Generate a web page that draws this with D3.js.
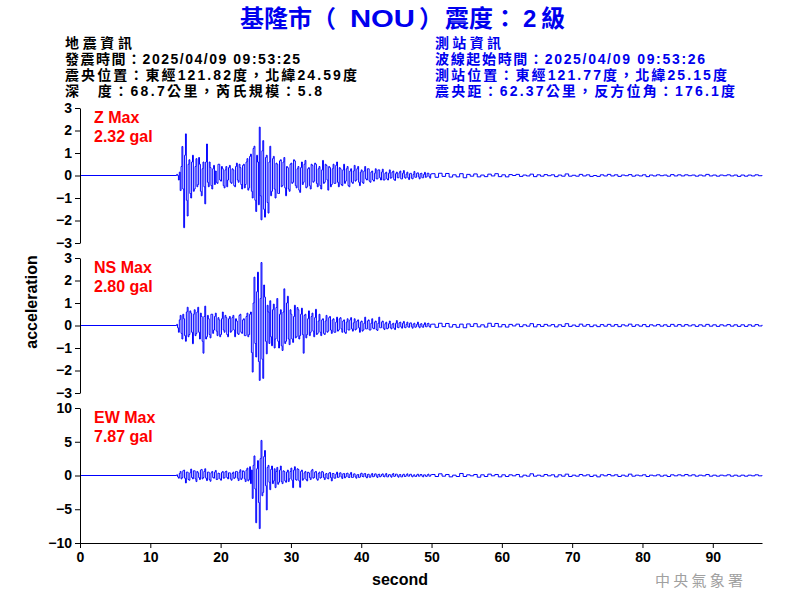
<!DOCTYPE html>
<html><head><meta charset="utf-8">
<script src="https://cdn.jsdelivr.net/npm/d3@7"></script>
<style>
html,body{margin:0;padding:0;background:#fff;}
svg{display:block;}
text{font-family:"Liberation Sans","Noto Sans CJK TC",sans-serif;}
</style></head>
<body><svg id="c" width="800" height="600"></svg>
<script>
// ---------- data ----------
const titleParts = ["基隆市","（","NOU","）","震度：","2","級"];
const quakeInfo = ["地震資訊","發震時間：2025/04/09 09:53:25","震央位置：東經121.82度，北緯24.59度","深　度：68.7公里，芮氏規模：5.8"];
const stationInfo = ["測站資訊","波線起始時間：2025/04/09 09:53:26","測站位置：東經121.77度，北緯25.15度","震央距：62.37公里，反方位角：176.1度"];
const componentNames = ["Z","NS","EW"];
const maxLabels = ["2.32 gal","2.80 gal","7.87 gal"];
const yDomains = [[-3,3],[-3,3],[-10,10]];
const yTickSets = [[-3,-2,-1,0,1,2,3],[-3,-2,-1,0,1,2,3],[-10,-5,0,5,10]];
const xTicks = [0,10,20,30,40,50,60,70,80,90];
const xMax = 97;
const headStart = 13.75, headStep = 0.125, tailStart = 50.0, tailStep = 0.5;

const zHead = [0.05,0,-0.2,0.15,-0.67,0.4,1.29,-0.6,-2.32,0.9,1.85,-1.1,-1.8,0.5,0.7,-0.8,-1.0,0.6,0.9,-0.7,
-0.6,0.4,0.75,-0.5,-0.4,0.8,0.5,-0.7,-0.9,0.3,0.6,-0.5,-1.26,0.6,1.4,-0.3,-0.5,0.6,0.35,-0.45,
-0.6,0.3,0.45,-0.4,0.2,-0.3,-0.35,0.5,0.5,-0.2,-0.25,0.4,0.3,-0.45,-0.55,0.25,0.4,-0.5,-0.2,0.35,
0.45,-0.3,-0.35,0.3,0.25,-0.45,-0.5,0.4,0.55,-0.2,-0.3,0.5,0.35,-0.4,-0.6,0.45,0.5,-0.55,-0.4,0.6,
0.75,-0.65,-0.55,0.85,0.95,-0.7,-1.0,1.2,1.3,-1.1,-1.6,0.9,0.6,-1.3,2.15,-0.9,-1.97,1.1,1.55,-1.5,
-1.85,0.8,0.9,-1.2,-1.67,0.6,1.3,-0.9,-0.7,0.75,0.85,-0.6,-1.0,0.55,0.5,-0.8,-0.8,0.65,0.7,-0.5,
-0.45,0.6,0.8,-0.55,-0.9,0.4,0.35,-0.6,-0.7,0.5,0.55,-0.35,-0.3,0.7,0.65,-0.45,-0.55,0.3,0.4,-0.65,
-0.75,0.35,0.6,-0.4,-0.3,0.5,0.67,-0.55,-0.5,0.3,0.35,-0.45,-0.6,0.5,0.45,-0.3,-0.25,0.55,0.5,-0.35,
-0.5,0.3,0.4,-0.45,-0.6,0.25,0.67,-0.35,-0.3,0.5,0.45,-0.2,-0.65,0.4,0.35,-0.5,-0.4,0.3,0.5,-0.35,
-0.35,0.45,0.6,-0.3,-0.5,0.35,0.3,-0.4,-0.45,0.25,0.5,-0.35,-0.25,0.3,0.4,-0.45,-0.5,0.2,0.3,-0.3,
-0.35,0.2,0.45,-0.25,-0.2,0.3,0.4,-0.3,-0.45,0.15,0.25,-0.3,-0.35,0.2,0.4,-0.15,-0.2,0.3,0.3,-0.25,
-0.3,0.15,0.2,-0.2,-0.25,0.1,0.3,-0.15,-0.15,0.25,0.25,-0.1,-0.2,0.15,0.28,-0.2,-0.2,0.1,0.15,-0.15,
-0.2,0.1,0.25,-0.12,-0.1,0.15,0.2,-0.18,-0.22,0.08,0.15,-0.1,-0.1,0.12,0.2,-0.15,-0.15,0.1,0.22,-0.08,
-0.12,0.06,0.15,-0.1,-0.18,0.08,0.1,-0.12,-0.15,0.05,0.18,-0.08,-0.08,0.1,0.12,-0.06,-0.15,0.08,0.1,-0.1,
-0.1,0.05,0.14,-0.08,-0.06,0.1,0.1,-0.05,-0.12,0.06];
const zTail = [0.08,-0.08,0.1,-0.04,0.09,-0.07,0.03,-0.06,0.08,-0.1,0.05,
-0.03,0.07,-0.06,0.02,-0.05,0.06,-0.02,0.08,-0.05,0.03,
-0.06,0.04,0.0,0.05,-0.04,0.02,-0.02,0.06,-0.05,0.03,
-0.03,0.04,-0.01,0.03,-0.05,0.02,-0.03,0.07,-0.03,0.01,
-0.03,0.05,-0.02,0.03,-0.04,0.0,-0.04,0.03,-0.02,0.05,
-0.02,0.03,-0.04,0.02,-0.01,0.04,-0.03,0.02,-0.02,0.03,
-0.05,0.02,-0.02,0.03,-0.01,0.02,-0.03,0.04,-0.02,0.03,
-0.02,0.03,-0.01,0.02,-0.03,0.02,-0.02,0.05,-0.02,0.02,
-0.03,0.02,-0.01,0.03,-0.02,0.02,-0.04,0.02,-0.03,0.02,
-0.02,0.03,-0.01,0.02];

const nsHead = [0.05,-0.1,-0.3,0.25,0.45,-0.35,-0.6,0.5,0.3,-0.45,-0.7,0.6,0.81,-0.5,-0.4,0.65,0.55,-0.3,-0.81,0.5,
0.7,-0.45,-0.35,0.6,0.81,-0.3,-0.6,0.55,0.4,-0.7,-1.23,0.4,0.86,-0.6,-0.5,0.45,0.3,-0.4,-0.55,0.5,
0.5,-0.35,-0.2,0.4,0.55,-0.25,-0.45,0.35,0.25,-0.5,-0.4,0.3,0.6,-0.2,-0.3,0.45,0.35,-0.4,-0.5,0.3,
0.4,-0.3,-0.25,0.35,0.45,-0.2,-0.5,0.3,0.2,-0.35,-0.4,0.45,0.5,-0.3,-0.35,0.25,0.3,-0.45,-0.45,0.4,
0.55,-0.5,-0.4,0.5,0.6,-1.2,-2.07,1.0,2.15,-0.8,-1.4,1.5,2.37,-1.6,-2.44,1.2,2.8,-1.5,-2.35,1.8,
1.26,-0.7,-1.26,0.9,0.6,-0.8,1.1,-0.5,-0.9,0.7,0.95,-1.0,-0.6,0.8,1.2,-0.7,-1.0,0.5,0.7,-0.9,
-1.11,0.6,1.63,-0.8,-0.7,1.0,1.3,-0.6,-0.85,0.7,0.5,-0.6,-0.75,0.4,0.9,-0.55,-0.5,0.8,0.7,-0.6,
-0.45,0.5,0.77,-0.4,-1.23,0.45,0.5,-0.55,-0.4,0.3,0.65,-0.45,-0.3,0.4,0.55,-0.25,-0.5,0.35,0.72,-0.4,
-0.35,0.2,0.5,-0.3,-0.45,0.25,0.3,-0.35,-0.4,0.2,0.45,-0.3,-0.25,0.35,0.4,-0.2,-0.35,0.25,0.3,-0.3,
-0.3,0.15,0.37,-0.25,-0.2,0.3,0.35,-0.15,-0.3,0.2,0.25,-0.3,-0.35,0.15,0.3,-0.2,-0.2,0.25,0.35,-0.15,
-0.25,0.12,0.3,-0.2,-0.15,0.2,0.25,-0.1,-0.3,0.15,0.2,-0.25,-0.2,0.1,0.37,-0.15,-0.15,0.2,0.25,-0.2,
-0.2,0.1,0.3,-0.12,-0.15,0.15,0.2,-0.18,-0.22,0.1,0.37,-0.1,-0.1,0.15,0.2,-0.12,-0.18,0.08,0.15,-0.15,
-0.12,0.08,0.2,-0.1,-0.15,0.06,0.1,-0.12,-0.18,0.1,0.22,-0.08,-0.1,0.12,0.15,-0.06,-0.12,0.1,0.18,-0.08,
-0.1,0.05,0.15,-0.06,-0.08,0.1,0.12,-0.05,-0.12,0.06,0.1,-0.08,-0.06,0.05,0.15,-0.04,-0.1,0.06,0.08,-0.06,
-0.08,0.04,0.12,-0.05,-0.06,0.08,0.1,-0.04,-0.08,0.05];
const nsTail = [0.06,-0.08,0.1,-0.05,0.09,-0.07,0.04,-0.08,0.06,-0.1,0.07,
-0.04,0.08,-0.06,0.03,-0.07,0.1,-0.04,0.09,-0.06,0.04,
-0.07,0.05,-0.02,0.06,-0.05,0.03,-0.03,0.08,-0.06,0.04,
-0.04,0.05,-0.02,0.04,-0.06,0.03,-0.04,0.08,-0.04,0.02,
-0.04,0.06,-0.03,0.04,-0.05,0.02,-0.05,0.04,-0.03,0.05,
-0.03,0.04,-0.05,0.03,-0.02,0.06,-0.04,0.03,-0.03,0.04,
-0.05,0.03,-0.02,0.04,-0.03,0.03,-0.04,0.05,-0.03,0.04,
-0.03,0.04,-0.02,0.03,-0.04,0.03,-0.03,0.05,-0.03,0.03,
-0.04,0.03,-0.02,0.04,-0.03,0.03,-0.04,0.03,-0.04,0.03,
-0.03,0.04,-0.02,0.03];

const ewHead = [0.1,-0.2,-0.4,0.3,0.6,-0.5,-0.3,0.7,0.8,-0.4,-1.1,0.5,0.5,-0.6,-0.7,0.4,0.95,-0.3,-0.5,0.7,
0.7,-0.5,-0.9,0.6,0.4,-0.3,-0.6,0.8,0.9,-0.5,-0.3,0.6,1.0,-0.4,-0.75,0.5,0.5,-0.6,-0.85,0.4,
0.6,-0.3,-0.4,0.5,0.75,-0.6,-0.55,0.35,0.3,-0.5,-0.7,0.45,0.6,-0.4,-0.35,0.55,0.65,-0.3,-0.5,0.4,
0.4,-0.5,-0.7,0.3,0.5,-0.45,-0.3,0.6,0.6,-0.4,-0.75,0.5,0.85,-0.6,-0.4,0.7,0.6,-0.5,-0.9,0.8,
1.1,-0.8,-0.6,1.3,-1.2,0.8,-3.4,1.5,2.9,-2.0,-7.0,1.0,2.2,-4.0,-7.87,2.5,5.2,-3.0,-2.5,2.8,
3.7,-1.5,-5.1,1.2,1.5,-1.0,-2.1,0.9,1.4,-1.2,-0.8,1.0,-1.8,0.6,1.2,-1.3,-1.0,0.8,1.4,-0.9,
-1.2,0.7,0.6,-0.8,-1.0,0.5,0.8,-0.9,-0.5,0.6,1.1,-0.7,-1.8,0.8,1.3,-0.6,-0.7,1.0,0.9,-0.8,
-1.75,0.6,0.8,-0.7,-0.5,0.4,0.6,-0.6,-0.8,0.5,0.4,-0.3,-0.6,0.7,0.9,-0.4,-0.3,0.5,0.6,-0.5,
-0.7,0.3,0.5,-0.4,-0.3,0.6,0.5,-0.3,-0.6,0.2,0.3,-0.4,-0.5,0.35,0.45,-0.3,-0.8,0.3,0.3,-0.4,
-0.4,0.2,0.5,-0.3,-0.25,0.35,0.4,-0.2,-0.45,0.25,0.3,-0.35,-0.2,0.3,0.35,-0.25,-0.3,0.2,0.45,-0.3,
-0.3,0.2,0.25,-0.2,-0.4,0.1,0.15,-0.3,-0.25,0.25,0.35,-0.15,-0.2,0.25,0.3,-0.2,-0.35,0.15,0.2,-0.25,
-0.25,0.1,0.3,-0.2,-0.15,0.2,0.25,-0.1,-0.3,0.15,0.2,-0.2,-0.1,0.15,0.25,-0.15,-0.2,0.1,0.3,-0.2,
-0.2,0.1,0.15,-0.1,-0.25,0.15,0.3,-0.15,-0.1,0.2,0.2,-0.1,-0.25,0.1,0.15,-0.2,-0.2,0.1,0.2,-0.15,
-0.15,0.1,0.25,-0.1,-0.1,0.15,0.2,-0.1,-0.2,0.05,0.1,-0.15,-0.15,0.1,0.2,-0.1,-0.1,0.15,0.15,-0.1,
-0.2,0.1,0.1,-0.1,-0.15,0.1,0.2,-0.1,-0.1,0.1];
const ewTail = [0.15,-0.15,0.25,-0.1,0.15,-0.2,0.05,-0.15,0.3,-0.15,0.1,
-0.05,0.15,-0.25,0.1,-0.15,0.2,-0.05,0.15,-0.2,0.1,
-0.15,0.1,-0.05,0.15,-0.2,0.05,-0.1,0.25,-0.1,0.05,
-0.1,0.15,-0.05,0.1,-0.2,0.1,-0.1,0.2,-0.15,0.05,
-0.1,0.15,-0.05,0.1,-0.15,0.05,-0.2,0.1,-0.05,0.15,
-0.05,0.1,-0.15,0.05,-0.1,0.2,-0.1,0.05,-0.05,0.1,
-0.15,0.05,-0.05,0.1,-0.1,0.05,-0.15,0.1,-0.05,0.1,
-0.05,0.15,-0.05,0.1,-0.1,0.05,-0.05,0.15,-0.1,0.05,
-0.1,0.05,-0.05,0.1,-0.1,0.05,-0.1,0.05,-0.1,0.05,
-0.05,0.1,-0.05,0.05];

// ---------- build ----------
function buildSeries(head, tail){
  return [{t:0,v:0}]
    .concat(head.map((v,i)=>({t:headStart+i*headStep, v})))
    .concat(tail.map((v,i)=>({t:tailStart+i*tailStep, v})));
}
const series = [buildSeries(zHead,zTail), buildSeries(nsHead,nsTail), buildSeries(ewHead,ewTail)];

const svg = d3.select("#c");
const left = 80, right = 762;
const panelTops = [108,258,408], panelH = 135;
const x = d3.scaleLinear().domain([0,xMax]).range([left,right]);

// title
const titleX = [240,312,350,419,445,523,541];
const title = svg.append("text").attr("y",27).attr("fill","#0000ee")
  .attr("font-size",24).attr("font-weight","bold");
titleParts.forEach((s,i)=>{
  const ts = title.append("tspan").attr("x",titleX[i]).text(s);
  if (s==="NOU") ts.attr("textLength",65).attr("lengthAdjust","spacingAndGlyphs");
});

const infoW1=[67,235,292,257], infoW2=[66,270,292,300], infoY=[48,64,80,96];
quakeInfo.forEach((s,i)=>svg.append("text").attr("x",65).attr("y",infoY[i])
  .attr("font-size",14).attr("font-weight","bold").attr("fill","#000")
  .attr("textLength",infoW1[i]).attr("lengthAdjust","spacing").text(s));
stationInfo.forEach((s,i)=>svg.append("text").attr("x",435).attr("y",infoY[i])
  .attr("font-size",14).attr("font-weight","bold").attr("fill","#0000ee")
  .attr("textLength",infoW2[i]).attr("lengthAdjust","spacing").text(s));

const fmt = d3.format("d");
series.forEach((data,k)=>{
  const top = panelTops[k];
  const y = d3.scaleLinear().domain(yDomains[k]).range([top+panelH, top]);
  const g = svg.append("g");
  const line = d3.line().curve(d3.curveStepAfter).x(d=>x(d.t)).y(d=>y(d.v));
  g.append("path").datum(data)
    .attr("d", line)
    .attr("fill","none").attr("stroke","#0000ff").attr("stroke-width",1);
  const ax = g.append("g").attr("transform",`translate(${left},0)`)
    .call(d3.axisLeft(y).tickValues(yTickSets[k]).tickFormat(fmt).tickSize(5).tickSizeOuter(0).tickPadding(3));
  ax.selectAll("text").attr("font-size",14).attr("font-weight","bold").attr("fill","#000")
    .attr("font-family","Liberation Sans, sans-serif");
  ax.selectAll("line,path").attr("stroke","#000");
  g.append("text").attr("x",94).attr("y",top+15).attr("fill","#ff0000")
    .attr("font-size",16).attr("font-weight","bold").text(componentNames[k]+" Max");
  g.append("text").attr("x",94).attr("y",top+34).attr("fill","#ff0000")
    .attr("font-size",16).attr("font-weight","bold").text(maxLabels[k]);
});

const xa = svg.append("g").attr("transform",`translate(0,${panelTops[2]+panelH})`)
  .call(d3.axisBottom(x).tickValues(xTicks).tickSize(5).tickSizeOuter(0).tickPadding(4));
xa.selectAll("text").attr("font-size",14).attr("font-weight","bold").attr("fill","#000")
  .attr("font-family","Liberation Sans, sans-serif");
xa.selectAll("line,path").attr("stroke","#000");

svg.append("text").attr("x",400).attr("y",585).attr("text-anchor","middle")
  .attr("font-size",16).attr("font-weight","bold").text("second");
svg.append("text").attr("transform","translate(37,302) rotate(-90)").attr("text-anchor","middle")
  .attr("font-size",16).attr("font-weight","bold").text("acceleration");
svg.append("text").attr("x",655).attr("y",586).attr("fill","#a0a0a0")
  .attr("font-size",15).attr("font-family","Noto Sans CJK TC")
  .attr("textLength",88).attr("lengthAdjust","spacing").text("中央氣象署");
</script></body></html>
